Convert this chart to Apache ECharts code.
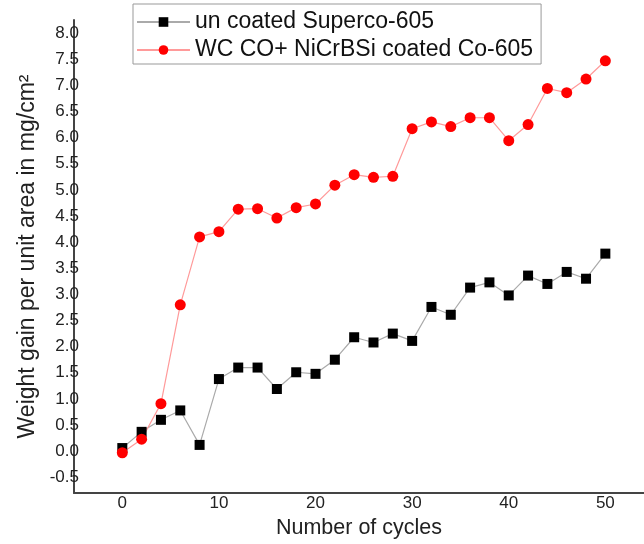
<!DOCTYPE html>
<html>
<head>
<meta charset="utf-8">
<script src="https://cdn.jsdelivr.net/npm/echarts@6/dist/echarts.min.js"></script>
<style>html,body{margin:0;padding:0;background:#fff;}#chart{width:644px;height:544px;}</style>
</head>
<body>
<div id="chart"></div>
<script>
var cycles = [0,2,4,6,8,10,12,14,16,18,20,22,24,26,28,30,32,34,36,38,40,42,44,46,48,50];
var uncoated = [0.06,0.37,0.60,0.78,0.12,1.38,1.60,1.60,1.19,1.51,1.48,1.75,2.18,2.08,2.25,2.11,2.76,2.61,3.13,3.23,2.98,3.36,3.20,3.43,3.30,3.78];
var coated = [-0.03,0.23,0.91,2.80,4.10,4.20,4.63,4.64,4.46,4.66,4.73,5.09,5.29,5.24,5.26,6.17,6.30,6.21,6.38,6.38,5.94,6.25,6.94,6.86,7.12,7.47];
var seriesNames = ['un coated Superco-605', 'WC CO+ NiCrBSi coated Co-605'];
var xTitle = 'Number of cycles';
var yTitle = 'Weight gain per unit area in mg/cm\u00B2';

function pairs(xs, ys){ return xs.map(function(x,i){ return [x, ys[i]]; }); }

var font = '"Liberation Sans", Arial, sans-serif';
var chart = echarts.init(document.getElementById('chart'), null, {renderer:'canvas'});
chart.setOption({
  backgroundColor: '#fff',
  animation: false,
  textStyle: {fontFamily: font},
  legend: {
    orient: 'vertical',
    left: 133, top: 4,
    padding: [5, 8, 1, 3],
    itemWidth: 53, itemHeight: 12, itemGap: 2,
    borderColor: '#999', borderWidth: 1,
    textStyle: {fontFamily: font, fontSize: 23, color: '#111', lineHeight: 26},
    data: seriesNames
  },
  grid: {left: 74, right: 0, top: 20, bottom: 51, containLabel: false},
  xAxis: {
    type: 'value', min: -5, max: 54, splitNumber: 6,
    name: xTitle, nameLocation: 'middle', nameGap: 22,
    nameTextStyle: {fontFamily: font, fontSize: 21.5, color: '#222'},
    axisLine: {show: true, onZero: false, lineStyle: {color: '#444', width: 2}},
    axisTick: {show: false},
    splitLine: {show: false},
    axisLabel: {fontFamily: font, fontSize: 17, color: '#222', margin: 2, showMinLabel: false, showMaxLabel: false}
  },
  yAxis: {
    type: 'value', min: -0.8, max: 8.25, splitNumber: 18,
    name: yTitle, nameLocation: 'middle', nameGap: 34, nameRotate: 90,
    nameTextStyle: {fontFamily: font, fontSize: 23, color: '#222'},
    axisLine: {show: true, onZero: false, lineStyle: {color: '#444', width: 2}},
    axisTick: {show: false},
    splitLine: {show: false},
    axisLabel: {fontFamily: font, fontSize: 17, color: '#222', margin: -5, showMinLabel: false, showMaxLabel: false,
      formatter: function(v){ return v.toFixed(1); }}
  },
  series: [
    {
      name: seriesNames[0], type: 'line', data: pairs(cycles, uncoated),
      symbol: 'rect', symbolSize: 10,
      itemStyle: {color: '#000'},
      lineStyle: {color: '#aaa', width: 1.2}
    },
    {
      name: seriesNames[1], type: 'line', data: pairs(cycles, coated),
      symbol: 'circle', symbolSize: 11,
      itemStyle: {color: '#ff0000'},
      lineStyle: {color: '#ff9a9a', width: 1.2}
    }
  ]
});
</script>
</body>
</html>
